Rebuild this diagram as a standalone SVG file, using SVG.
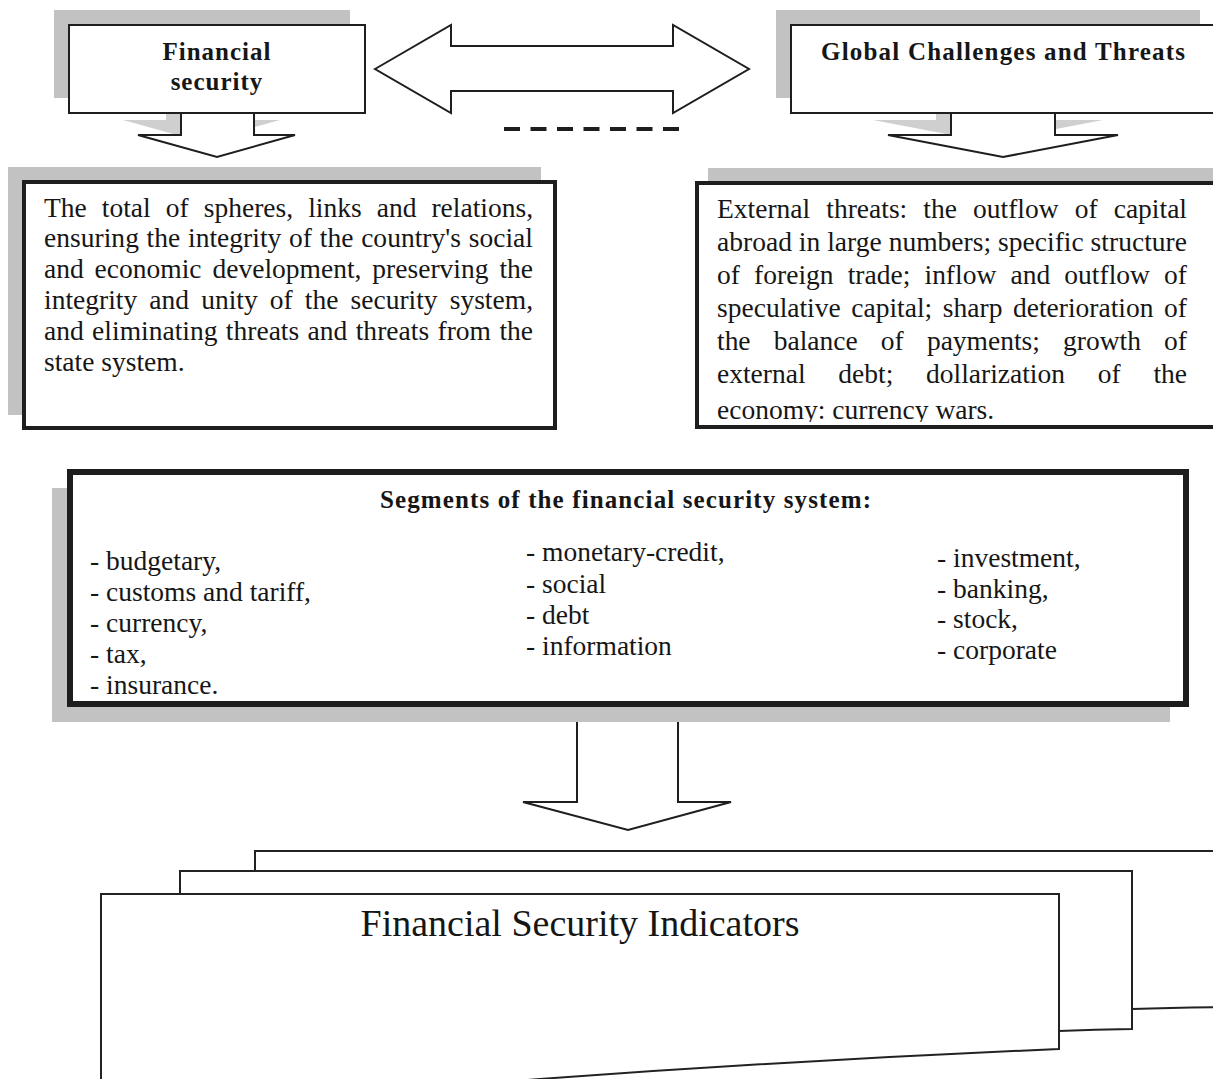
<svg xmlns="http://www.w3.org/2000/svg" width="1213" height="1079" viewBox="0 0 1213 1079">
<style>
  .shadow { fill: #c2c2c2; }
  .box { fill: #ffffff; stroke: #1e1e1e; }
  .thin { stroke-width: 2; }
  .mid { stroke-width: 4; }
  .thick { stroke-width: 6; }
  .arrow { fill: #ffffff; stroke: #1e1e1e; stroke-width: 2; stroke-linejoin: miter; }
  .ashadow { fill: #cfcfcf; }
  .doc { fill: #ffffff; stroke: #222222; stroke-width: 2; }
  .hdr { font-family: "Liberation Serif", "Times New Roman", serif; font-weight: bold; font-size: 25px; letter-spacing: 1px; fill: #161616; }
  .body { font-family: "Liberation Serif", "Times New Roman", serif; font-size: 27.5px; fill: #161616; }
  .big { font-family: "Liberation Serif", "Times New Roman", serif; font-size: 38px; fill: #161616; }
</style>
<defs>
  <clipPath id="threatsClip"><rect x="697" y="183" width="520" height="239"/></clipPath>
</defs>
<rect width="1213" height="1079" fill="#ffffff"/>

<g id="connectors">
  <polygon class="ashadow" points="166,98 239,98 239,120 280,120 202,142 123,120 166,120"/>
  <polygon class="ashadow" points="936,98 1040,98 1040,120 1103,120 988,142 873,120 936,120"/>
  <polygon class="arrow" points="181,112 254,112 254,135 295,135 217,157 138,135 181,135"/>
  <polygon class="arrow" points="951,112 1055,112 1055,135 1118,135 1003,157 888,135 951,135"/>
  <polygon class="arrow" points="375,69 451,25 451,46 673,46 673,25 749,69 673,113 673,91 451,91 451,113"/>
  <line x1="504" y1="129" x2="679" y2="129" stroke="#1e1e1e" stroke-width="4" stroke-dasharray="16 10.5"/>
  <polygon class="arrow" points="577,721 678,721 678,802 731,802 628,830 523,802 577,802"/>
</g>

<g id="node-financial-security">
  <rect class="shadow" x="54" y="10" width="296" height="88"/>
  <rect class="box thin" x="69" y="25" width="296" height="88"/>
  <text class="hdr" x="217" y="60" text-anchor="middle">Financial</text>
  <text class="hdr" x="217" y="90" text-anchor="middle">security</text>
</g>

<g id="node-global-challenges">
  <rect class="shadow" x="776" y="10" width="424" height="88"/>
  <rect class="box thin" x="791" y="25" width="430" height="88"/>
  <text class="hdr" x="821" y="60" textLength="365" lengthAdjust="spacing">Global Challenges and Threats</text>
</g>

<g id="node-definition">
  <rect class="shadow" x="8" y="167" width="533" height="248"/>
  <rect class="box mid" x="24" y="182" width="531" height="246"/>
  <text class="body" x="44" y="217" word-spacing="8.2" textLength="489" lengthAdjust="spacing">The total of spheres, links and relations,</text>
  <text class="body" x="44" y="247" word-spacing="0.8" textLength="489" lengthAdjust="spacing">ensuring the integrity of the country's social</text>
  <text class="body" x="44" y="278" word-spacing="4" textLength="489" lengthAdjust="spacing">and economic development, preserving the</text>
  <text class="body" x="44" y="309" word-spacing="5.2" textLength="489" lengthAdjust="spacing">integrity and unity of the security system,</text>
  <text class="body" x="44" y="340" word-spacing="1.5" textLength="489" lengthAdjust="spacing">and eliminating threats and threats from the</text>
  <text class="body" x="44" y="371">state system.</text>
</g>

<g id="node-threats">
  <rect class="shadow" x="708" y="168" width="520" height="246"/>
  <rect class="box mid" x="697" y="183" width="530" height="244"/>
  <g clip-path="url(#threatsClip)">
    <text class="body" x="717" y="218" word-spacing="9.2" textLength="470" lengthAdjust="spacing">External threats: the outflow of capital</text>
    <text class="body" x="717" y="251" textLength="470" lengthAdjust="spacing">abroad in large numbers; specific structure</text>
    <text class="body" x="717" y="284" word-spacing="7.3" textLength="470" lengthAdjust="spacing">of foreign trade; inflow and outflow of</text>
    <text class="body" x="717" y="317" word-spacing="3.7" textLength="470" lengthAdjust="spacing">speculative capital; sharp deterioration of</text>
    <text class="body" x="717" y="350" word-spacing="16.3" textLength="470" lengthAdjust="spacing">the balance of payments; growth of</text>
    <text class="body" x="717" y="383" word-spacing="25.9" textLength="470" lengthAdjust="spacing">external debt; dollarization of the</text>
    <text class="body" x="717" y="419">economy: currency wars.</text>
  </g>
  <rect x="697" y="183" width="530" height="244" fill="none" stroke="#1e1e1e" stroke-width="4"/>
</g>

<g id="node-segments">
  <rect class="shadow" x="52" y="488" width="1118" height="234"/>
  <rect class="box thick" x="70" y="472" width="1116" height="232"/>
  <text class="hdr" x="380" y="508" textLength="492" lengthAdjust="spacing">Segments of the financial security system:</text>
  <text class="body" x="90" y="570">- budgetary,</text>
  <text class="body" x="90" y="601">- customs and tariff,</text>
  <text class="body" x="90" y="632">- currency,</text>
  <text class="body" x="90" y="663">- tax,</text>
  <text class="body" x="90" y="694">- insurance.</text>
  <text class="body" x="526" y="561">- monetary-credit,</text>
  <text class="body" x="526" y="593">- social</text>
  <text class="body" x="526" y="624">- debt</text>
  <text class="body" x="526" y="655">- information</text>
  <text class="body" x="937" y="567">- investment,</text>
  <text class="body" x="937" y="598">- banking,</text>
  <text class="body" x="937" y="628">- stock,</text>
  <text class="body" x="937" y="659">- corporate</text>
</g>

<g id="node-indicators">
  <path class="doc" d="M255,868 L255,851 L1240,851 L1240,1007 Q1180,1007.5 1132,1009 L700,1040 L255,1060 Z"/>
  <path class="doc" d="M180,889 L180,871 L1132,871 L1132,1029 Q1095,1029.5 1059,1031 L600,1060 L180,1080 Z"/>
  <path class="doc" d="M101,1100 L101,894 L1059,894 L1059,1049 Q800,1060 540,1079 Q400,1090 300,1100 Z"/>
  <text class="big" x="580" y="936" text-anchor="middle">Financial Security Indicators</text>
</g>
</svg>
